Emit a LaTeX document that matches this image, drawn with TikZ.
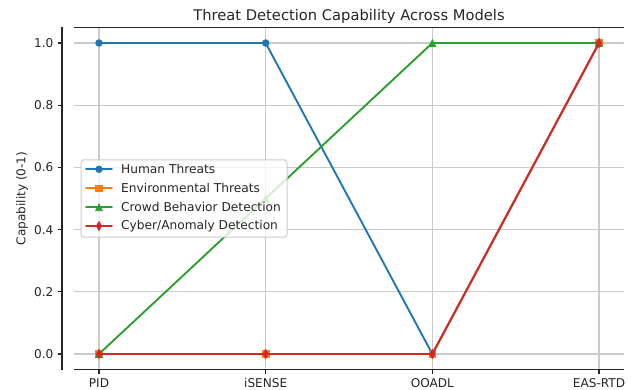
\documentclass[tikz,border=0pt]{standalone}
\usepackage{fontspec}
\setmainfont{DejaVu Sans}
\usetikzlibrary{shapes.geometric}
\definecolor{cblue}{HTML}{1F77B4}
\definecolor{corange}{HTML}{FF7F0E}
\definecolor{cgreen}{HTML}{2CA02C}
\definecolor{cred}{HTML}{D62728}
\definecolor{gridc}{HTML}{CBCBCB}
\definecolor{spinec}{HTML}{262626}
\tikzset{
  gridline/.style={draw=gridc, line width=1.1pt},
  spine/.style={draw=spinec, line width=1.1pt},
  tickmark/.style={draw=spinec, line width=1.1pt},
  ticklab/.style={inner sep=0pt, font=\fontsize{12.1}{14}\selectfont, text=spinec},
  series/.style={line width=1.9pt, line join=round, line cap=round},
  mcirc/.style={circle, fill=#1, draw=#1, line width=0.6pt, minimum size=6.8pt, inner sep=0pt},
  msq/.style={rectangle, fill=#1, draw=#1, line width=0.6pt, minimum size=6.6pt, inner sep=0pt},
  mdia/.style={diamond, fill=#1, draw=#1, line width=0.6pt, minimum width=5.6pt, minimum height=9.6pt, inner sep=0pt},
  mtri/.pic={\fill[cgreen, draw=cgreen, line width=0.6pt] (0,-3.5) -- (3.5,3.5) -- (-3.5,3.5) -- cycle;},
  legframe/.style={draw=gridc, line width=1pt, fill=white, fill opacity=0.8, rounded corners=2.5pt, minimum width=206pt, minimum height=77pt, inner sep=0pt},
  legtext/.style={anchor=west, inner sep=0pt, font=\fontsize{12.2}{14}\selectfont, text=spinec},
}
\begin{document}
\begin{tikzpicture}[x=1pt,y=-1pt]
\useasboundingbox (0,0) rectangle (631,390);
% grid
\foreach \yy in {43,105.2,167.4,229.6,291.8,354} {\draw[gridline] (74,\yy) -- (624,\yy);}
\foreach \xx in {99,265.67,432.33,599} {\draw[gridline] (\xx,27.5) -- (\xx,369.5);}
% spines
\draw[spine] (74,27.5) -- (624,27.5);
\draw[spine] (74,369.5) -- (624,369.5);
\draw[spine] (62,27.5) -- (62,369.5);
% y ticks
\foreach \yy/\lab in {43/1.0,105.2/0.8,167.4/0.6,229.6/0.4,291.8/0.2,354/0.0} {
  \draw[tickmark] (57.5,\yy) -- (62,\yy);
  \node[ticklab, anchor=east] at (53.5,\yy) {\lab};
}
% x ticks
\foreach \xx/\lab/\nm in {99/PID/xa,265.67/iSENSE/xb,432.33/OOADL/xc,599/EAS-RTD/xd} {
  \draw[tickmark] (\xx,369.5) -- (\xx,374);
  \node[ticklab, anchor=base] (\nm) at (\xx,387) {\lab};
}
% labels
\node[font=\fontsize{14.7}{17}\selectfont, text=spinec, anchor=base] (title) at (349,20.5) {Threat Detection Capability Across Models};
\node[ticklab, rotate=90] (ylab) at (22,198.5) {Capability (0-1)};
% data coordinates
\coordinate (a0) at (99,43);      \coordinate (a1) at (265.67,43);
\coordinate (a2) at (432.33,354); \coordinate (a3) at (599,43);
\coordinate (b0) at (99,354);     \coordinate (b1) at (265.67,354);
\coordinate (b2) at (432.33,354); \coordinate (b3) at (599,43);
\coordinate (c0) at (99,354);     \coordinate (c1) at (265.67,198.5);
\coordinate (c2) at (432.33,43);  \coordinate (c3) at (599,43);
% Human Threats
\draw[series, cblue] (a0) -- (a1) -- (a2) -- (a3);
\foreach \p in {a0,a1,a2,a3} {\node[mcirc=cblue] at (\p) {};}
% Environmental Threats
\draw[series, corange] (b0) -- (b1) -- (b2) -- (b3);
\foreach \p in {b0,b1,b2,b3} {\node[msq=corange] at (\p) {};}
% Crowd Behavior
\draw[series, cgreen] (c0) -- (c1) -- (c2) -- (c3);
\foreach \p in {c0,c1,c2,c3} {\pic at (\p) {mtri};}
% Cyber/Anomaly
\draw[series, cred] (b0) -- (b1) -- (b2) -- (b3);
\foreach \p in {b0,b1,b2,b3} {\node[mdia=cred] at (\p) {};}
% legend
\node[legframe] (legend) at (184,198.5) {};
\coordinate (l1a) at (86,169.3); \coordinate (l1b) at (112,169.3);
\coordinate (l2a) at (86,188.3); \coordinate (l2b) at (112,188.3);
\coordinate (l3a) at (86,207.2); \coordinate (l3b) at (112,207.2);
\coordinate (l4a) at (86,226);   \coordinate (l4b) at (112,226);
\draw[series, cblue] (l1a) -- (l1b); \node[mcirc=cblue] at (99,169.3) {};
\draw[series, corange] (l2a) -- (l2b); \node[msq=corange] at (99,188.3) {};
\draw[series, cgreen] (l3a) -- (l3b); \pic at (99,207.2) {mtri};
\draw[series, cred] (l4a) -- (l4b); \node[mdia=cred] at (99,226) {};
\node[legtext] (t1) at (121,169.3) {Human Threats};
\node[legtext] (t2) at (121,188.3) {Environmental Threats};
\node[legtext] (t3) at (121,207.2) {Crowd Behavior Detection};
\node[legtext] (t4) at (121,226) {Cyber/Anomaly Detection};
\end{tikzpicture}
\end{document}
